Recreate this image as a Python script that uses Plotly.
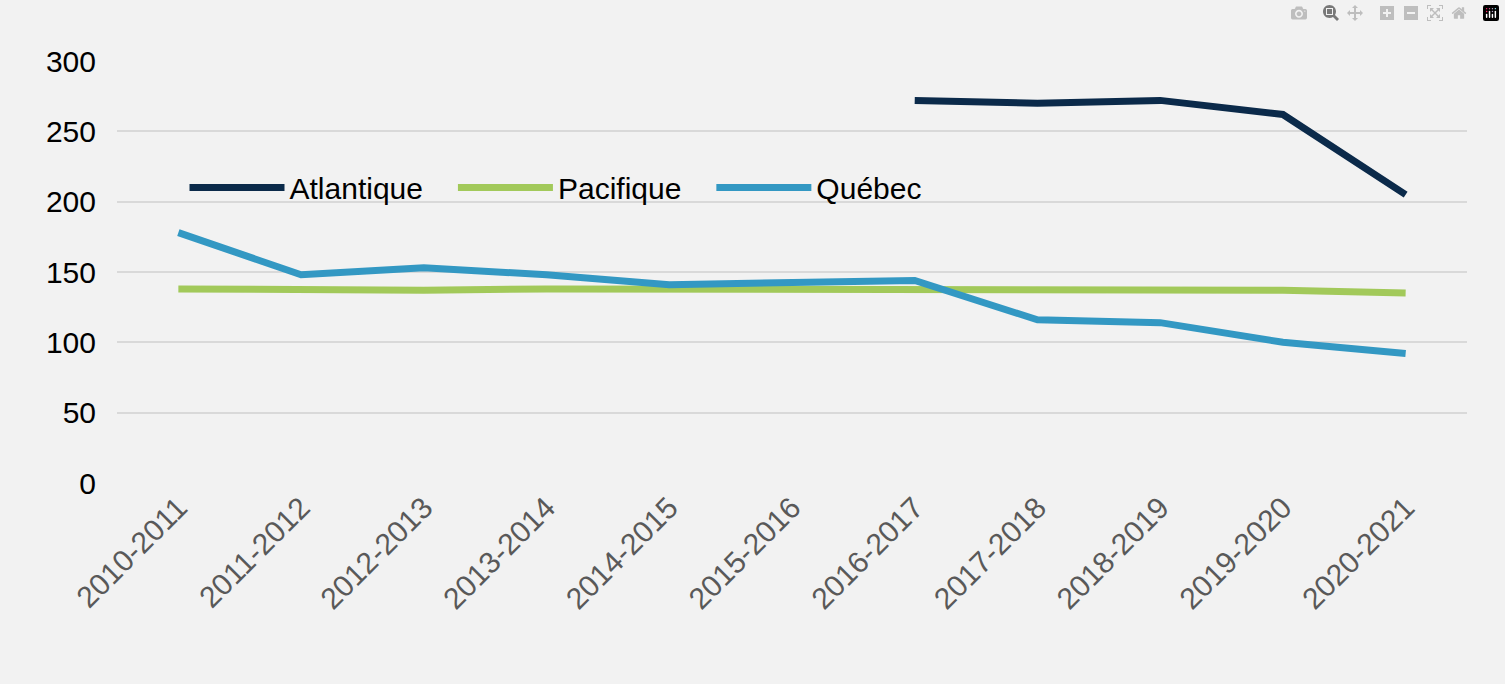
import plotly.graph_objects as go

years = ["2010-2011","2011-2012","2012-2013","2013-2014","2014-2015","2015-2016",
         "2016-2017","2017-2018","2018-2019","2019-2020","2020-2021"]
atlantique = [None,None,None,None,None,None,272,270,272,262,205]
pacifique = [138,137,137,138,138,138,138,137,137,137,135]
quebec = [178,148,153,148,141,143,144,116,114,100,92]

fig = go.Figure()
for name, vals, col in [("Atlantique", atlantique, "#0b2a4a"),
                        ("Pacifique", pacifique, "#a2c95a"),
                        ("Québec", quebec, "#3398c3")]:
    fig.add_trace(go.Scatter(x=years, y=vals, name=name + "   ", mode="lines",
                             line=dict(color=col, width=7), connectgaps=False))

fig.update_layout(
    width=1505, height=684, paper_bgcolor="#f2f2f2", plot_bgcolor="#f2f2f2",
    margin=dict(l=117, r=38, t=61, b=201),
    font=dict(family="Liberation Sans, Arial", size=30, color="#000"),
    legend=dict(orientation="h", x=0.05, y=0.70, xanchor="left", yanchor="middle",
                bgcolor="rgba(0,0,0,0)", font=dict(size=30), itemwidth=95),
    xaxis=dict(type="category", range=[-0.5, 10.5], tickangle=-45,
               tickfont=dict(color="#595959", size=30), showgrid=False,
               showline=False, zeroline=False),
    yaxis=dict(range=[0, 300], tickvals=[0,50,100,150,200,250,300],
               gridcolor="#d9d9d9", gridwidth=2, zeroline=False,
               ticklabelstandoff=20, tickfont=dict(size=30)),
)
fig.write_html("out.html", post_script="document.body.style.margin='0';document.body.style.background='#f2f2f2';")
